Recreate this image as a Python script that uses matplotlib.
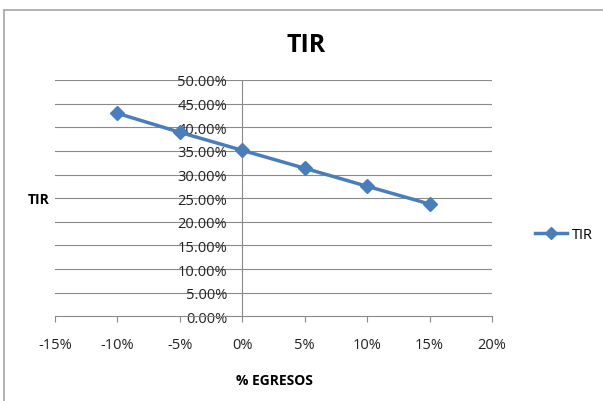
import matplotlib
matplotlib.use("Agg")
import matplotlib.pyplot as plt
from matplotlib.lines import Line2D
from matplotlib.ticker import FuncFormatter

egresos = [-10, -5, 0, 5, 10, 15]
tir = [42.95, 38.93, 35.12, 31.32, 27.51, 23.76]
x_ticks = [-15, -10, -5, 0, 5, 10, 15, 20]
y_ticks = [0, 5, 10, 15, 20, 25, 30, 35, 40, 45, 50]

plt.rcParams['font.family'] = ['Open Sans', 'DejaVu Sans']

W, H = 603, 402
fig = plt.figure(figsize=(W / 100, H / 100), dpi=100)
fig.patch.set_facecolor('white')

ax = fig.add_axes([55 / W, 1 - 317.3 / H, (492 - 55) / W, (317.3 - 81) / H])
ax.set_xlim(-15, 20)
ax.set_ylim(0, 50)

grid_c = '#8a8a8a'
for y in y_ticks[1:]:
    ax.axhline(y, color=grid_c, lw=0.8, zorder=1)

line_c = '#4a7ebb'
ax.plot(egresos, tir, color=line_c, lw=2.5, marker='D', markersize=7,
        zorder=3, label='TIR')

for s in ['top', 'right']:
    ax.spines[s].set_visible(False)
ax.spines['left'].set_position(('data', 0))
ax.spines['left'].set_color(grid_c)
ax.spines['bottom'].set_color(grid_c)
ax.spines['left'].set_linewidth(0.8)
ax.spines['bottom'].set_linewidth(0.8)

ax.set_xticks(x_ticks)
ax.set_xticklabels([f"{v}%" for v in x_ticks])
ax.set_yticks(y_ticks)
ax.yaxis.set_major_formatter(FuncFormatter(lambda v, p: f"{v:.2f}%"))
ax.tick_params(axis='x', direction='out', length=4, color=grid_c,
               labelsize=10.5, pad=11, labelcolor='#222222')
ax.tick_params(axis='y', direction='out', length=0, labelsize=10.5,
               pad=11, labelcolor='#222222')
for lab in ax.get_yticklabels():
    lab.set_zorder(5)

fig.text(306 / W, 1 - 45 / H, 'TIR', ha='center', va='center',
         fontsize=18, fontweight='bold')
fig.text(39 / W, 1 - 200 / H, 'TIR', ha='center', va='center',
         fontsize=10, fontweight='bold')
fig.text(274 / W, 1 - 381 / H, '% EGRESOS', ha='center', va='center',
         fontsize=10, fontweight='bold')

leg = fig.legend(handles=[Line2D([0], [0], color=line_c, lw=2.5, marker='D',
                                 markersize=6)],
                 labels=['TIR'], loc='center left',
                 bbox_to_anchor=(522 / W, 1 - 236 / H), frameon=False,
                 fontsize=10.5, handlelength=2.2, handletextpad=0.3)

border_c = '#a6a6a6'
fig.add_artist(Line2D([4 / W, 1], [1 - 11 / H, 1 - 11 / H], color=border_c,
                      lw=1.2, transform=fig.transFigure))
fig.add_artist(Line2D([4 / W, 4 / W], [0, 1 - 11 / H], color=border_c,
                      lw=1.2, transform=fig.transFigure))

fig.savefig('out.png', dpi=100, facecolor='white')
